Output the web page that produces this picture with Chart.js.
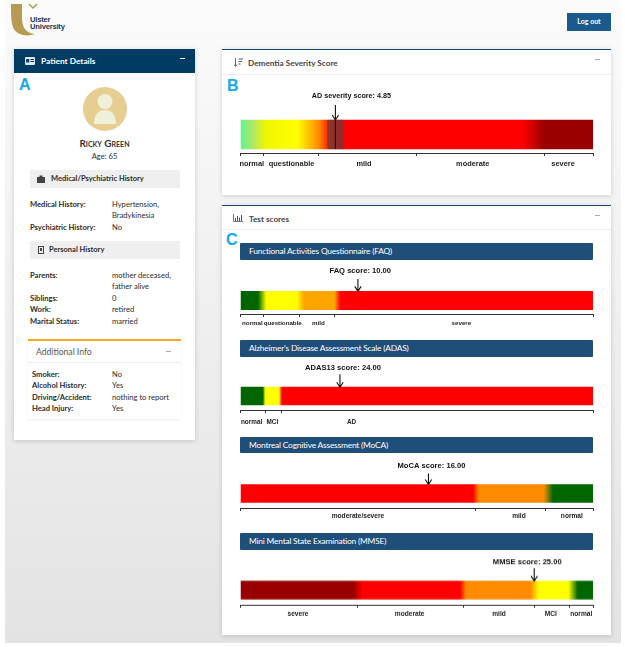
<!DOCTYPE html>
<html>
<head>
<meta charset="utf-8">
<title>Patient dashboard</title>
<script src="https://cdn.jsdelivr.net/npm/chart.js@4"></script>
<style>
  html, body { margin: 0; padding: 0; background: #fff; }
  body { width: 625px; height: 647px; position: relative; overflow: hidden; font-family: Lato, sans-serif; color: #2b2b2b; font-size: 7.6px; }
  #page { position: absolute; left: 5px; top: 0; width: 616px; height: 643px; background: linear-gradient(#fbfbfb, #e3e3e3); }
  .abs { position: absolute; white-space: nowrap; }
  .card { position: absolute; background: #fff; box-shadow: 0 1px 5px rgba(0,0,0,.16); }
  .b { font-weight: 700; }
  .letter { position: absolute; color: #16a9ea; font: 700 16px "Liberation Sans", sans-serif; line-height: 16px; }
  .sub { position: absolute; left: 30px; width: 150px; height: 18.5px; background: #efefef; }
  .sub span { position: absolute; top: 4.5px; font-weight: 700; font-size: 7.5px; }
  .bar { position: absolute; left: 240px; width: 353px; height: 16.5px; background: #1f4e79; border-radius: 1px; color: #fff; font-size: 8.4px; letter-spacing: -.2px; line-height: 16.5px; text-indent: 9px; white-space: nowrap; }
  .panel-title { font-size: 8.2px; font-weight: 700; color: #444; }
  .divider { position: absolute; height: 1px; background: #eeeeee; }
  .dash { position: absolute; width: 5px; height: 1px; background: #aaa; }
  canvas { position: absolute; left: 210px; }
</style>
</head>
<body>
<div id="page"></div>

<!-- logo -->
<svg class="abs" style="left:10px;top:3px" width="32" height="34" viewBox="0 0 32 34">
  <path d="M1 1 C1 20 1 29 13 32 C18 33 22 32 25 31 C15 30 12 24 12 14 L12 1 Z" fill="#b89a52"/>
  <path d="M19 1 L23 5 L27 1" fill="none" stroke="#b89a52" stroke-width="1.5"/>
</svg>
<div class="abs" style="left:30px;top:15.5px;font:700 7.6px/7.6px 'Liberation Sans',sans-serif;color:#24364d;letter-spacing:-.2px">Ulster<br>University</div>
<div class="abs" style="left:567px;top:13px;width:44px;height:17.5px;background:#1a5a8c;color:#fff;font-weight:700;font-size:7px;text-align:center;line-height:17.5px">Log out</div>

<!-- patient panel -->
<div class="card" style="left:14px;top:49px;width:181px;height:391px"></div>
<div class="abs" style="left:14px;top:48.5px;width:181px;height:24px;background:#003b63"></div>
<svg class="abs" style="left:25px;top:57px" width="10" height="8" viewBox="0 0 10 8"><rect width="10" height="8" rx="1" fill="#dfe7ee"/><rect x="1.2" y="2" width="3" height="3.5" fill="#003b63"/><rect x="5.5" y="2" width="3.5" height="1" fill="#003b63"/><rect x="5.5" y="4" width="3.5" height="1" fill="#003b63"/></svg>
<div class="abs b" style="left:41px;top:56px;color:#fff;font-size:8.3px">Patient Details</div>
<div class="dash" style="left:179.5px;top:58px;background:#fff"></div>
<div class="letter" style="left:19px;top:77px">A</div>
<svg class="abs" style="left:83px;top:86.5px" width="44" height="44" viewBox="0 0 44 44">
  <circle cx="22" cy="22" r="22" fill="#e6cd92"/>
  <circle cx="22" cy="14.5" r="7.5" fill="#eef0d8"/>
  <path d="M11 37 C11 27 16 23 22 23 C28 23 33 27 33 37 Z" fill="#eef0d8"/>
</svg>
<div class="abs" style="left:14px;width:181px;top:137px;text-align:center;font-size:10px;font-weight:700;font-variant:small-caps;color:#333">Ricky Green</div>
<div class="abs" style="left:14px;width:181px;top:151px;text-align:center">Age: 65</div>

<div class="sub" style="top:169.5px"><svg class="abs" style="left:7px;top:5px" width="8" height="8" viewBox="0 0 8 8"><path d="M0 2 H8 V8 H0 Z M2.5 2 V0.5 H5.5 V2" fill="#444"/></svg><span style="left:21px">Medical/Psychiatric History</span></div>
<div class="abs b" style="left:30px;top:198.5px">Medical History:</div>
<div class="abs" style="left:112px;top:198.5px">Hypertension,</div>
<div class="abs" style="left:112px;top:210px">Bradykinesia</div>
<div class="abs b" style="left:30px;top:221.5px">Psychiatric History:</div>
<div class="abs" style="left:112px;top:221.5px">No</div>

<div class="sub" style="top:240.5px"><svg class="abs" style="left:7.5px;top:5px" width="6" height="8" viewBox="0 0 6 8"><rect width="6" height="8" fill="#444"/><rect x="1" y="1" width="4" height="6" fill="#efefef"/><rect x="2" y="2" width="2" height="3" fill="#444"/></svg><span style="left:19px">Personal History</span></div>
<div class="abs b" style="left:30px;top:269.5px">Parents:</div>
<div class="abs" style="left:112px;top:269.5px">mother deceased,</div>
<div class="abs" style="left:112px;top:281px">father alive</div>
<div class="abs b" style="left:30px;top:292.5px">Siblings:</div>
<div class="abs" style="left:112px;top:292.5px">0</div>
<div class="abs b" style="left:30px;top:304px">Work:</div>
<div class="abs" style="left:112px;top:304px">retired</div>
<div class="abs b" style="left:30px;top:315.5px">Marital Status:</div>
<div class="abs" style="left:112px;top:315.5px">married</div>

<div class="abs" style="left:28px;top:339px;width:153px;height:78px;background:#fff;border-top:2px solid #f5a623;box-shadow:0 1px 2px rgba(0,0,0,.08)"></div>
<div class="abs" style="left:36px;top:347px;font-size:8.6px;color:#555">Additional Info</div>
<div class="dash" style="left:166px;top:351px"></div>
<div class="divider" style="left:28px;top:362px;width:153px"></div>
<div class="abs b" style="left:32px;top:368.5px">Smoker:</div>
<div class="abs" style="left:112px;top:368.5px">No</div>
<div class="abs b" style="left:32px;top:380px">Alcohol History:</div>
<div class="abs" style="left:112px;top:380px">Yes</div>
<div class="abs b" style="left:32px;top:391.5px">Driving/Accident:</div>
<div class="abs" style="left:112px;top:391.5px">nothing to report</div>
<div class="abs b" style="left:32px;top:403px">Head Injury:</div>
<div class="abs" style="left:112px;top:403px">Yes</div>

<!-- severity panel -->
<div class="card" style="left:222px;top:48.5px;width:389px;height:146.5px;border-top:1.5px solid #1b4a70;box-sizing:border-box"></div>
<svg class="abs" style="left:234px;top:58px" width="9" height="9" viewBox="0 0 9 9"><path d="M1.5 0 V8 M0 6.5 L1.5 8.5 L3 6.5" fill="none" stroke="#555" stroke-width=".9"/><path d="M4.5 1 H9 M4.5 3.5 H8 M4.5 6 H6.5" stroke="#555" stroke-width="1"/></svg>
<div class="abs panel-title" style="left:248px;top:58px">Dementia Severity Score</div>
<div class="dash" style="left:595px;top:59px"></div>
<div class="divider" style="left:222px;top:74px;width:389px"></div>
<div class="letter" style="left:227px;top:78px">B</div>

<!-- test score panel -->
<div class="card" style="left:222px;top:204.5px;width:389px;height:430.5px;border-top:1.5px solid #1b4a70;box-sizing:border-box"></div>
<svg class="abs" style="left:233px;top:214px" width="10" height="8" viewBox="0 0 10 8"><path d="M.5 0 V7.5 H10" fill="none" stroke="#555" stroke-width=".8"/><path d="M2.5 7 V4 M4.5 7 V2 M6.5 7 V3.5 M8.5 7 V1" stroke="#555" stroke-width="1"/></svg>
<div class="abs panel-title" style="left:249px;top:213.5px">Test scores</div>
<div class="dash" style="left:595px;top:215px"></div>
<div class="divider" style="left:222px;top:229px;width:389px"></div>
<div class="letter" style="left:226px;top:232px">C</div>

<div class="bar" style="top:243.3px">Functional Activities Questionnaire (FAQ)</div>
<div class="bar" style="top:340px">Alzheimer's Disease Assessment Scale (ADAS)</div>
<div class="bar" style="top:436.5px">Montreal Cognitive Assessment (MoCA)</div>
<div class="bar" style="top:533.3px">Mini Mental State Examination (MMSE)</div>

<canvas id="severityChart"></canvas>
<canvas id="faqChart"></canvas>
<canvas id="adasChart"></canvas>
<canvas id="mocaChart"></canvas>
<canvas id="mmseChart"></canvas>

<script>
// scale range, band edges, band names and where each name sits on the scale
const severityRange = [0, 18];
const severityScore = 4.85;
const severityInterval = [4.45, 5.25];
const severityEdges = [0, 1.2, 4, 9, 15.5, 18];
const severityNames = ['normal', 'questionable', 'mild', 'moderate', 'severe'];
const severityNameAt = [0.58, 2.61, 6.31, 11.86, 16.47];
const severityStops = [0, 0.6, 1.3, 2.9, 3.5, 4, 4.5, 5, 14.4, 15.5, 18];
const severityColors = ['#5ff58f', '#a8e86b', '#f2f500', '#ffff00', '#ffc000', '#ff8c00', '#ff2000', '#ff0000', '#ff0000', '#990000', '#990000'];

const faqRange = [0, 30];
const faqScore = 10;
const faqEdges = [0, 2, 5, 8, 30];
const faqNames = ['normal', 'questionable', 'mild', 'severe'];
const faqNameAt = [1.02, 3.6, 6.63, 18.8];
const faqStops = [0, 1.5, 2.2, 4.8, 5.4, 8, 8.5, 30];
const faqColors = ['#006600', '#006600', '#ffff00', '#ffff00', '#ffa500', '#ffa500', '#ff0000', '#ff0000'];

const adasRange = [0, 85];
const adasScore = 24;
const adasEdges = [0, 6, 10, 85];
const adasNames = ['normal', 'MCI', 'AD'];
const adasNameAt = [2.7, 7.7, 26.8];
const adasStops = [0, 5.4, 6, 9.3, 10, 85];
const adasColors = ['#006600', '#006600', '#ffff00', '#ffff00', '#ff0000', '#ff0000'];

const mocaRange = [0, 30];
const mocaScore = 16;
const mocaEdges = [0, 20, 26, 30];
const mocaNames = ['moderate/severe', 'mild', 'normal'];
const mocaNameAt = [10, 23.7, 28.2];
const mocaStops = [0, 19.8, 20.3, 25.8, 26.6, 30];
const mocaColors = ['#ff0000', '#ff0000', '#ff8c00', '#ff8c00', '#006600', '#006600'];

const mmseRange = [0, 30];
const mmseScore = 25;
const mmseEdges = [0, 10, 19, 25, 28, 30];
const mmseNames = ['severe', 'moderate', 'mild', 'MCI', 'normal'];
const mmseNameAt = [4.9, 14.4, 22, 26.4, 29];
const mmseStops = [0, 9.6, 10.4, 18.7, 19.2, 24.7, 25.4, 27.9, 28.7, 30];
const mmseColors = ['#990000', '#990000', '#ff0000', '#ff0000', '#ff8c00', '#ff8c00', '#ffff00', '#ffff00', '#006600', '#006600'];

const PAD_TOP = 30;
const AXIS_HEIGHT = 18;

// arrow and score text above the bar
const scoreArrow = {
    id: 'scoreArrow',
    afterDatasetsDraw(chart, args, opts) {
        const ctx = chart.ctx;
        const x = chart.scales.x.getPixelForValue(opts.score);
        const top = chart.chartArea.top + opts.gap;
        ctx.save();
        ctx.strokeStyle = '#111';
        ctx.lineWidth = 1.1;
        ctx.beginPath();
        ctx.moveTo(x, top - opts.length);
        ctx.lineTo(x, opts.throughBar ? top + opts.barHeight : top);
        ctx.moveTo(x - 3.2, top - 5);
        ctx.lineTo(x, top);
        ctx.lineTo(x + 3.2, top - 5);
        ctx.stroke();
        ctx.fillStyle = '#111';
        ctx.font = 'bold ' + opts.textSize + 'px "Liberation Sans", sans-serif';
        ctx.textAlign = 'center';
        ctx.textBaseline = 'middle';
        ctx.fillText(opts.text, x + opts.textShift, top - opts.textRise);
        ctx.restore();
    }
};

function makeGauge(id, cfg) {
    const canvas = document.getElementById(id);
    const gap = cfg.gap;
    canvas.style.top = (cfg.barTop - gap - PAD_TOP) + 'px';
    canvas.style.width = '415px';
    canvas.style.height = (PAD_TOP + gap * 2 + cfg.barHeight + AXIS_HEIGHT) + 'px';

    const paintBar = function(context) {
        const area = context.chart.chartArea;
        if (!area) return '#ff0000';
        const g = context.chart.ctx.createLinearGradient(area.left, 0, area.right, 0);
        const span = cfg.range[1] - cfg.range[0];
        cfg.stops.forEach((v, i) => g.addColorStop((v - cfg.range[0]) / span, cfg.colors[i]));
        return g;
    };

    const datasets = [{
        data: [[cfg.range[0], cfg.range[1]]],
        backgroundColor: paintBar,
        barThickness: cfg.barHeight,
        borderSkipped: false,
        order: 2
    }];
    if (cfg.interval) {
        datasets.push({
            data: [cfg.interval],
            backgroundColor: 'rgba(70, 70, 70, 0.6)',
            barThickness: cfg.barHeight,
            order: 1
        });
    }

    const nameOf = value => {
        const i = cfg.nameAt.indexOf(value);
        return i >= 0 ? cfg.names[i] : '';
    };

    return new Chart(canvas, {
        type: 'bar',
        data: { labels: [cfg.title], datasets: datasets },
        options: {
            indexAxis: 'y',
            responsive: false,
            animation: false,
            grouped: false,
            layout: { padding: { left: 30.4, right: 32, top: PAD_TOP, bottom: 0 } },
            plugins: {
                legend: { display: false },
                tooltip: { enabled: false },
                scoreArrow: {
                    score: cfg.score,
                    text: cfg.text,
                    textSize: cfg.textSize || 7.6,
                    gap: gap,
                    barHeight: cfg.barHeight,
                    length: cfg.arrowLength,
                    textRise: cfg.textRise,
                    textShift: cfg.textShift,
                    throughBar: !!cfg.interval
                }
            },
            scales: {
                y: { display: false },
                x: {
                    type: 'linear',
                    min: cfg.range[0],
                    max: cfg.range[1],
                    afterBuildTicks(scale) {
                        scale.ticks = cfg.edges.concat(cfg.nameAt).sort((a, b) => a - b).map(v => ({ value: v }));
                    },
                    afterFit(scale) { scale.height = AXIS_HEIGHT; },
                    border: { color: '#333', width: 1 },
                    grid: {
                        drawOnChartArea: false,
                        tickLength: 3,
                        tickWidth: 1,
                        tickColor: c => cfg.edges.includes(c.tick.value) ? '#333' : 'rgba(0,0,0,0)'
                    },
                    ticks: {
                        autoSkip: false,
                        maxRotation: 0,
                        minRotation: 0,
                        padding: cfg.labelPad,
                        color: '#222',
                        font: { family: '"Liberation Sans", sans-serif', size: cfg.fontSize, weight: 'bold' },
                        callback: value => nameOf(value)
                    }
                }
            }
        },
        plugins: [scoreArrow]
    });
}

document.addEventListener('DOMContentLoaded', function() {
    makeGauge('severityChart', { title: 'Dementia severity', range: severityRange, score: severityScore, interval: severityInterval, edges: severityEdges, names: severityNames, nameAt: severityNameAt, stops: severityStops, colors: severityColors,
        text: 'AD severity score: 4.85', textSize: 7.2, barTop: 120, barHeight: 29, gap: 4, arrowLength: 15, textRise: 24, textShift: 16, fontSize: 7.4, labelPad: 4 });
    makeGauge('faqChart', { title: 'FAQ', range: faqRange, score: faqScore, edges: faqEdges, names: faqNames, nameAt: faqNameAt, stops: faqStops, colors: faqColors,
        text: 'FAQ score: 10.00', barTop: 291, barHeight: 18.3, gap: 4.4, arrowLength: 12.5, textRise: 20, textShift: 2.3, fontSize: 6.2, labelPad: 3 });
    makeGauge('adasChart', { title: 'ADAS', range: adasRange, score: adasScore, edges: adasEdges, names: adasNames, nameAt: adasNameAt, stops: adasStops, colors: adasColors,
        text: 'ADAS13 score: 24.00', barTop: 387, barHeight: 18, gap: 5.3, arrowLength: 13, textRise: 19.5, textShift: 3, fontSize: 6.4, labelPad: 5 });
    makeGauge('mocaChart', { title: 'MoCA', range: mocaRange, score: mocaScore, edges: mocaEdges, names: mocaNames, nameAt: mocaNameAt, stops: mocaStops, colors: mocaColors,
        text: 'MoCA score: 16.00', barTop: 484, barHeight: 18, gap: 5.5, arrowLength: 11, textRise: 18.5, textShift: 3, fontSize: 6.6, labelPad: 1 });
    makeGauge('mmseChart', { title: 'MMSE', range: mmseRange, score: mmseScore, edges: mmseEdges, names: mmseNames, nameAt: mmseNameAt, stops: mmseStops, colors: mmseColors,
        text: 'MMSE score: 25.00', barTop: 581, barHeight: 18, gap: 5.6, arrowLength: 12.5, textRise: 19, textShift: -7, fontSize: 6.6, labelPad: 2 });
});
</script>
</body>
</html>
